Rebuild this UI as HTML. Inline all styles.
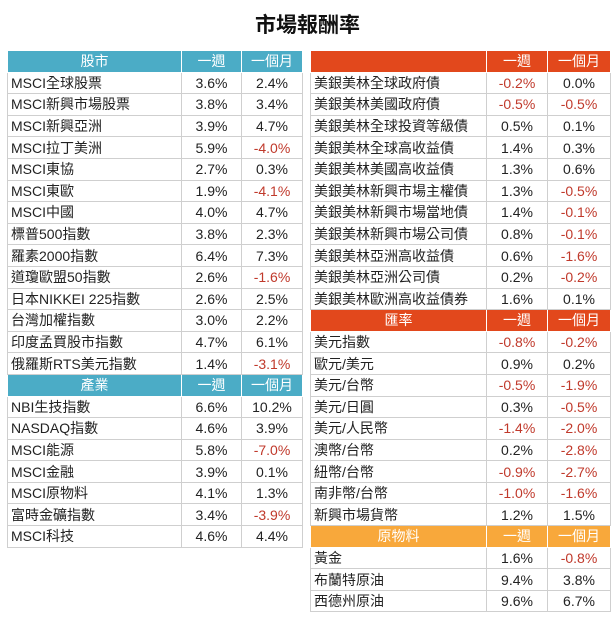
<!DOCTYPE html>
<html><head><meta charset="utf-8">
<style>
body{margin:0;width:615px;height:617px;background:#fff;position:relative;overflow:hidden;font-family:"Liberation Sans","Noto Sans CJK TC",sans-serif;}
h1{position:absolute;top:9px;left:0;width:615px;text-align:center;margin:0;font-size:21px;font-weight:bold;color:#111;}
table{position:absolute;border-collapse:collapse;table-layout:fixed;font-size:14px;color:#222;}
td{border:1px solid #cfcfcf;height:20.6px;padding:0 0 0 3px;white-space:nowrap;overflow:hidden;line-height:20px;}
td.v{text-align:center;padding:0;}
td.n{color:#c0392b;}
tr.h td{color:#fff;text-align:center;padding:0;border-color:#fff;}
tr.teal td{background:#4bacc6;}
tr.red td{background:#e2481c;}
tr.org td{background:#f8a83b;}
</style></head><body>
<h1>市場報酬率</h1>

<table style="left:7px;top:50px;width:295px">
<colgroup><col style="width:174px"><col style="width:60px"><col style="width:61px"></colgroup>
<tr class="h teal"><td>股市</td><td>一週</td><td>一個月</td></tr>
<tr><td>MSCI全球股票</td><td class="v">3.6%</td><td class="v">2.4%</td></tr>
<tr><td>MSCI新興市場股票</td><td class="v">3.8%</td><td class="v">3.4%</td></tr>
<tr><td>MSCI新興亞洲</td><td class="v">3.9%</td><td class="v">4.7%</td></tr>
<tr><td>MSCI拉丁美洲</td><td class="v">5.9%</td><td class="v n">-4.0%</td></tr>
<tr><td>MSCI東協</td><td class="v">2.7%</td><td class="v">0.3%</td></tr>
<tr><td>MSCI東歐</td><td class="v">1.9%</td><td class="v n">-4.1%</td></tr>
<tr><td>MSCI中國</td><td class="v">4.0%</td><td class="v">4.7%</td></tr>
<tr><td>標普500指數</td><td class="v">3.8%</td><td class="v">2.3%</td></tr>
<tr><td>羅素2000指數</td><td class="v">6.4%</td><td class="v">7.3%</td></tr>
<tr><td>道瓊歐盟50指數</td><td class="v">2.6%</td><td class="v n">-1.6%</td></tr>
<tr><td>日本NIKKEI 225指數</td><td class="v">2.6%</td><td class="v">2.5%</td></tr>
<tr><td>台灣加權指數</td><td class="v">3.0%</td><td class="v">2.2%</td></tr>
<tr><td>印度孟買股市指數</td><td class="v">4.7%</td><td class="v">6.1%</td></tr>
<tr><td>俄羅斯RTS美元指數</td><td class="v">1.4%</td><td class="v n">-3.1%</td></tr>
<tr class="h teal"><td>產業</td><td>一週</td><td>一個月</td></tr>
<tr><td>NBI生技指數</td><td class="v">6.6%</td><td class="v">10.2%</td></tr>
<tr><td>NASDAQ指數</td><td class="v">4.6%</td><td class="v">3.9%</td></tr>
<tr><td>MSCI能源</td><td class="v">5.8%</td><td class="v n">-7.0%</td></tr>
<tr><td>MSCI金融</td><td class="v">3.9%</td><td class="v">0.1%</td></tr>
<tr><td>MSCI原物料</td><td class="v">4.1%</td><td class="v">1.3%</td></tr>
<tr><td>富時金礦指數</td><td class="v">3.4%</td><td class="v n">-3.9%</td></tr>
<tr><td>MSCI科技</td><td class="v">4.6%</td><td class="v">4.4%</td></tr>
</table>

<table style="left:310px;top:50px;width:300px">
<colgroup><col style="width:176px"><col style="width:61px"><col style="width:63px"></colgroup>
<tr class="h red"><td></td><td>一週</td><td>一個月</td></tr>
<tr><td>美銀美林全球政府債</td><td class="v n">-0.2%</td><td class="v">0.0%</td></tr>
<tr><td>美銀美林美國政府債</td><td class="v n">-0.5%</td><td class="v n">-0.5%</td></tr>
<tr><td>美銀美林全球投資等級債</td><td class="v">0.5%</td><td class="v">0.1%</td></tr>
<tr><td>美銀美林全球高收益債</td><td class="v">1.4%</td><td class="v">0.3%</td></tr>
<tr><td>美銀美林美國高收益債</td><td class="v">1.3%</td><td class="v">0.6%</td></tr>
<tr><td>美銀美林新興市場主權債</td><td class="v">1.3%</td><td class="v n">-0.5%</td></tr>
<tr><td>美銀美林新興市場當地債</td><td class="v">1.4%</td><td class="v n">-0.1%</td></tr>
<tr><td>美銀美林新興市場公司債</td><td class="v">0.8%</td><td class="v n">-0.1%</td></tr>
<tr><td>美銀美林亞洲高收益債</td><td class="v">0.6%</td><td class="v n">-1.6%</td></tr>
<tr><td>美銀美林亞洲公司債</td><td class="v">0.2%</td><td class="v n">-0.2%</td></tr>
<tr><td>美銀美林歐洲高收益債券</td><td class="v">1.6%</td><td class="v">0.1%</td></tr>
<tr class="h red"><td>匯率</td><td>一週</td><td>一個月</td></tr>
<tr><td>美元指數</td><td class="v n">-0.8%</td><td class="v n">-0.2%</td></tr>
<tr><td>歐元/美元</td><td class="v">0.9%</td><td class="v">0.2%</td></tr>
<tr><td>美元/台幣</td><td class="v n">-0.5%</td><td class="v n">-1.9%</td></tr>
<tr><td>美元/日圓</td><td class="v">0.3%</td><td class="v n">-0.5%</td></tr>
<tr><td>美元/人民幣</td><td class="v n">-1.4%</td><td class="v n">-2.0%</td></tr>
<tr><td>澳幣/台幣</td><td class="v">0.2%</td><td class="v n">-2.8%</td></tr>
<tr><td>紐幣/台幣</td><td class="v n">-0.9%</td><td class="v n">-2.7%</td></tr>
<tr><td>南非幣/台幣</td><td class="v n">-1.0%</td><td class="v n">-1.6%</td></tr>
<tr><td>新興市場貨幣</td><td class="v">1.2%</td><td class="v">1.5%</td></tr>
<tr class="h org"><td>原物料</td><td>一週</td><td>一個月</td></tr>
<tr><td>黃金</td><td class="v">1.6%</td><td class="v n">-0.8%</td></tr>
<tr><td>布蘭特原油</td><td class="v">9.4%</td><td class="v">3.8%</td></tr>
<tr><td>西德州原油</td><td class="v">9.6%</td><td class="v">6.7%</td></tr>
</table>
</body></html>
